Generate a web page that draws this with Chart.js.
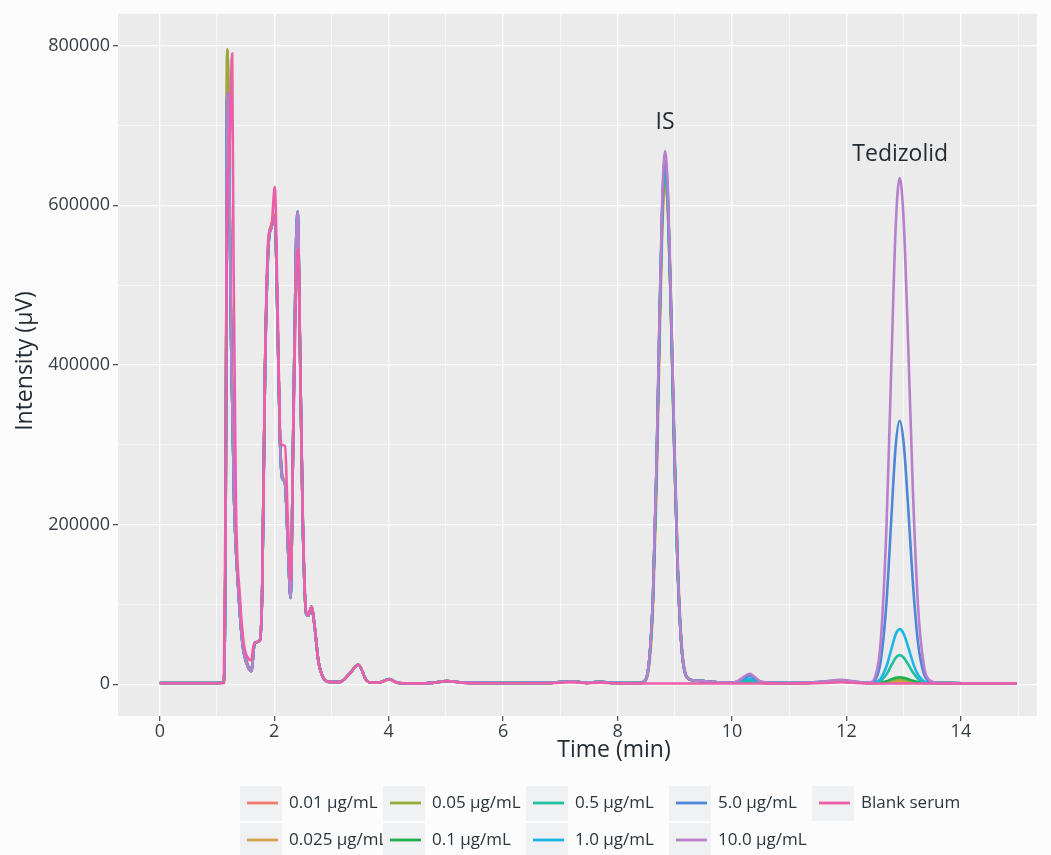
<!DOCTYPE html>
<html>
<head>
<meta charset="utf-8">
<script src="https://cdn.jsdelivr.net/npm/chart.js@4.4.1/dist/chart.umd.min.js"></script>
<style>
	body { margin: 0; background: #fcfcfc; }
	canvas { display: block; }
</style>
</head>
<body>
<canvas id="grafico" width="1051" height="855"></canvas>
<script>
const seriesLabels = ['0.01 µg/mL', '0.025 µg/mL', '0.05 µg/mL', '0.1 µg/mL', '0.5 µg/mL', '1.0 µg/mL', '5.0 µg/mL', '10.0 µg/mL', 'Blank serum'];
const seriesColors = ['#F07A6E', '#D6A04A', '#93AD3C', '#1DAF4F', '#1FBFA0', '#1BB5E6', '#4F86D6', '#B77FCC', '#EC5FA8'];

// linhas de grade (maiores levam rotulo)
const xGrid = [0, 1, 2, 3, 4, 5, 6, 7, 8, 9, 10, 11, 12, 13, 14, 15];
const xTicks = [0, 2, 4, 6, 8, 10, 12, 14];
const yGrid = [0, 100000, 200000, 300000, 400000, 500000, 600000, 700000, 800000];
const yTicks = [0, 200000, 400000, 600000, 800000];

// serum matrix part of the run (min), same for every calibrator
const tMatrix = [0, 0.5, 1.0, 1.12, 1.15, 1.18, 1.21, 1.25, 1.30, 1.37, 1.45, 1.52, 1.60, 1.66, 1.75, 1.79, 1.84, 1.90, 1.95, 2.01, 2.06, 2.10, 2.14, 2.19, 2.24, 2.285, 2.33, 2.38, 2.41, 2.45, 2.50, 2.56, 2.60, 2.65, 2.71, 2.77, 2.85, 2.97, 3.15, 3.32, 3.47, 3.61, 3.70, 3.85, 4.01, 4.15, 4.5, 4.8, 5.01, 5.3, 6.0, 6.8, 7.2, 7.45, 7.69, 7.9, 8.2, 8.40];
const matrixLow = [1500, 1500, 1600, 1800, 200000, 795000, 690000, 420000, 230000, 125000, 50000, 28000, 17500, 52000, 55000, 120000, 400000, 555000, 575000, 588000, 450000, 310000, 262000, 250000, 175000, 110000, 300000, 530000, 580000, 420000, 200000, 88000, 86000, 97000, 70000, 30000, 9000, 3000, 2900, 13600, 24500, 5000, 2000, 2500, 6200, 2000, 800, 2000, 4100, 2000, 1600, 1700, 3700, 1800, 3000, 1800, 1600, 1700];
const matrixHigh = [1500, 1500, 1600, 1800, 190000, 740000, 660000, 415000, 228000, 122000, 48000, 26000, 16500, 52000, 55000, 118000, 395000, 550000, 572000, 585000, 448000, 308000, 258000, 252000, 172000, 108000, 305000, 545000, 592000, 425000, 200000, 88000, 86000, 97000, 70000, 30000, 9000, 3000, 2900, 13600, 24500, 5000, 2000, 2500, 6500, 2000, 800, 2000, 4100, 2000, 1600, 1700, 3700, 1800, 3000, 1800, 1600, 1700];
const tMatrixBlank = [0, 0.5, 1.0, 1.12, 1.15, 1.18, 1.21, 1.24, 1.265, 1.29, 1.33, 1.40, 1.47, 1.55, 1.60, 1.63, 1.66, 1.75, 1.79, 1.84, 1.90, 1.95, 2.01, 2.06, 2.10, 2.13, 2.19, 2.24, 2.29, 2.33, 2.38, 2.42, 2.46, 2.50, 2.56, 2.60, 2.65, 2.71, 2.77, 2.85, 2.97, 3.15, 3.32, 3.47, 3.61, 3.70, 3.85, 4.01, 4.15, 4.5, 4.8, 5.01, 5.3, 6.0, 6.8, 7.2, 7.45, 7.69, 7.9, 8.2, 8.40];
const matrixBlank = [1200, 1200, 1300, 1500, 250000, 630000, 650000, 740000, 790000, 520000, 230000, 110000, 50000, 32000, 30000, 45000, 52000, 55000, 120000, 400000, 561000, 572000, 623000, 470000, 320000, 300000, 298000, 200000, 130000, 290000, 500000, 545000, 380000, 210000, 90000, 88000, 97000, 70000, 30000, 9000, 3000, 2700, 13600, 24500, 5000, 2000, 2300, 6000, 1800, 800, 1800, 4000, 1800, 1200, 1300, 2500, 1300, 2000, 1200, 1000, 1000];

// internal standard peak
const tIS = [8.45, 8.55, 8.62, 8.68, 8.73, 8.78, 8.83, 8.88, 8.93, 8.99, 9.05, 9.12, 9.21];
const is001 = [2800, 27100, 108800, 262400, 432000, 579200, 640000, 592000, 470400, 294400, 144000, 45000, 8500];
const is0025 = [2400, 22000, 96000, 240000, 410000, 565000, 622000, 598000, 490000, 315000, 158000, 51000, 9500];
const is005 = [2800, 27300, 109700, 264500, 435400, 583700, 645000, 596600, 474100, 296700, 145100, 45400, 8600];
const is01 = [2800, 27500, 110500, 266500, 438800, 588300, 650000, 601300, 477800, 299000, 146300, 45700, 8700];
const is05 = [2800, 27700, 111400, 268600, 442100, 592800, 655000, 605900, 481400, 301300, 147400, 46000, 8700];
const is10 = [2800, 27600, 110800, 267300, 440100, 590100, 652000, 603100, 479200, 299900, 146700, 45800, 8700];
const is50 = [2800, 27900, 112200, 270600, 445500, 597300, 660000, 610500, 485100, 303600, 148500, 46400, 8800];
const is100 = [2800, 28200, 113600, 273900, 450900, 604500, 668000, 617900, 491000, 307300, 150300, 46900, 8800];
const isBlank = [1000, 1000, 1000, 1000, 1000, 1000, 1000, 1000, 1000, 1000, 1000, 1000, 1000];

const tPost = [9.32, 9.5, 9.75, 10.0];
const postCal = [5000, 4000, 2600, 2000];
const postBlank = [1000, 1000, 1000, 1000];

const tMid = [10.1, 10.2, 10.31, 10.4, 10.5, 10.7, 11.0, 11.3, 11.6, 11.9, 12.1, 12.3];
const midOther = [2200, 3000, 3600, 3000, 2100, 1700, 1600, 1800, 2800, 4000, 3000, 1900];
const midCyan = [3000, 5500, 7000, 5500, 2800, 1800, 1600, 1900, 3000, 4500, 3400, 2000];
const midBlue = [3500, 7500, 10700, 7500, 3000, 1800, 1600, 2000, 3300, 5000, 3700, 2100];
const midPurple = [4000, 9000, 13000, 9000, 3500, 1800, 1600, 2000, 3500, 5500, 4000, 2200];
const midBlank = [1000, 1000, 1000, 1000, 1000, 1000, 1000, 1100, 1500, 2500, 1800, 1100];

// tedizolid peak
const tTed = [12.4, 12.5, 12.6, 12.7, 12.78, 12.86, 12.93, 13.0, 13.08, 13.16, 13.25, 13.35, 13.45, 13.6];
const ted001 = [1600, 1600, 1700, 2000, 2400, 2800, 3000, 2900, 2500, 2100, 1800, 1650, 1600, 1500];
const ted0025 = [1600, 1630, 1850, 2500, 3300, 4100, 4500, 4200, 3500, 2700, 2000, 1700, 1600, 1500];
const ted005 = [1600, 1650, 2000, 3100, 4600, 5950, 6500, 6100, 4800, 3400, 2300, 1800, 1600, 1500];
const ted01 = [1600, 1700, 2200, 3800, 6000, 8100, 8800, 8200, 6400, 4400, 2700, 1900, 1600, 1500];
const ted05 = [1700, 2000, 4600, 12400, 22900, 33000, 36500, 33500, 24800, 15000, 7000, 2900, 1800, 1500];
const ted10 = [1700, 2400, 7300, 22500, 42700, 62300, 69000, 63300, 46400, 27500, 12000, 4100, 2000, 1500];
const ted50 = [1900, 5400, 29500, 103000, 202000, 298000, 330000, 302000, 220000, 128000, 52500, 13800, 3500, 1600];
const ted100 = [2200, 9000, 55000, 198000, 388000, 572000, 634000, 581000, 423000, 245000, 99000, 25000, 5000, 1700];
const tedBlank = [1000, 1000, 1000, 1000, 1000, 1000, 1000, 1000, 1000, 1000, 1000, 1000, 1000, 1000];

const tTail = [13.8, 14.2, 14.6, 14.98];
const tailCal = [1400, 1300, 1200, 1200];
const tailBlank = [1000, 1000, 1000, 1000];

const peakLabels = [
	{ text: 'IS', x: 8.83, y: 704000 },
	{ text: 'Tedizolid', x: 12.94, y: 664000 }
];

const seriesParts = [
	[matrixLow, is001, postCal, midOther, ted001, tailCal],
	[matrixLow, is0025, postCal, midOther, ted0025, tailCal],
	[matrixLow, is005, postCal, midOther, ted005, tailCal],
	[matrixHigh, is01, postCal, midOther, ted01, tailCal],
	[matrixHigh, is05, postCal, midOther, ted05, tailCal],
	[matrixHigh, is10, postCal, midCyan, ted10, tailCal],
	[matrixHigh, is50, postCal, midBlue, ted50, tailCal],
	[matrixHigh, is100, postCal, midPurple, ted100, tailCal],
	[matrixBlank, isBlank, postBlank, midBlank, tedBlank, tailBlank]
];

const FONTE = "'Open Sans', 'Noto Sans', sans-serif";

function montaPontos(idx) {
	const tempos = [idx === 8 ? tMatrixBlank : tMatrix, tIS, tPost, tMid, tTed, tTail];
	const pontos = [];
	seriesParts[idx].forEach((valores, p) => {
		valores.forEach((v, k) => pontos.push({ x: tempos[p][k], y: v }));
	});
	return pontos;
}

function montaDatasets() {
	return seriesLabels.map((label, i) => ({
		label: label,
		data: montaPontos(i),
		borderColor: seriesColors[i],
		backgroundColor: seriesColors[i],
		borderWidth: 2.6,
		pointRadius: 0,
		cubicInterpolationMode: 'monotone',
		order: seriesLabels.length - i
	}));
}

// fundo cinza do painel, estilo ggplot
const painelPlugin = {
	id: 'painel',
	beforeDraw(chart) {
		const { ctx, chartArea: a } = chart;
		ctx.save();
		ctx.fillStyle = '#fcfcfc';
		ctx.fillRect(0, 0, chart.width, chart.height);
		ctx.fillStyle = '#EBEBEB';
		ctx.fillRect(a.left, a.top, a.right - a.left, a.bottom - a.top);
		ctx.restore();
	}
};

const textosPlugin = {
	id: 'textos',
	afterDraw(chart) {
		const { ctx } = chart;
		const xs = chart.scales.x, ys = chart.scales.y;
		ctx.save();
		ctx.fillStyle = '#222b33';
		ctx.textAlign = 'center';
		ctx.textBaseline = 'middle';
		ctx.font = '23px ' + FONTE;
		peakLabels.forEach(l => ctx.fillText(l.text, xs.getPixelForValue(l.x), ys.getPixelForValue(l.y)));

		// titulos dos eixos
		ctx.fillText('Time (min)', 614, 750);
		ctx.save();
		ctx.translate(25, 361);
		ctx.rotate(-Math.PI / 2);
		ctx.fillText('Intensity (μV)', 0, 0);
		ctx.restore();

		// legenda em 2 linhas, preenchida por coluna
		const colX = [240, 383, 526, 669, 812];
		const rowY = [803, 840];
		ctx.font = '17px ' + FONTE;
		ctx.textAlign = 'left';
		seriesLabels.forEach((label, i) => {
			const cx = colX[Math.floor(i / 2)];
			const cy = rowY[i % 2];
			ctx.fillStyle = '#F0F1F2';
			ctx.fillRect(cx, cy - 17, 42, 35);
			ctx.strokeStyle = seriesColors[i];
			ctx.lineWidth = 2.8;
			ctx.beginPath();
			ctx.moveTo(cx + 7, cy);
			ctx.lineTo(cx + 38, cy);
			ctx.stroke();
			ctx.fillStyle = '#2a353d';
			ctx.fillText(label, cx + 49, cy);
		});
		ctx.restore();
	}
};

function eixo(grade, rotulos, limites, tamanho) {
	return {
		type: 'linear',
		min: limites[0],
		max: limites[1],
		afterBuildTicks: (scale) => { scale.ticks = grade.map(v => ({ value: v })); },
		afterFit: tamanho,
		border: { display: false },
		grid: {
			color: '#ffffff',
			lineWidth: (c) => (rotulos.includes(c.tick.value) ? 1.3 : 0.6),
			tickColor: (c) => (rotulos.includes(c.tick.value) ? '#555555' : 'rgba(0,0,0,0)'),
			tickLength: 5
		},
		ticks: {
			autoSkip: false,
			maxRotation: 0,
			color: '#353c43',
			font: { family: FONTE, size: 18 },
			callback: (v) => (rotulos.includes(v) ? String(v) : '')
		}
	};
}

function montaChart() {
	const ctx = document.getElementById('grafico').getContext('2d');
	const eixoX = eixo(xGrid, xTicks, [-0.73, 15.33], (scale) => { scale.height = 139; });
	eixoX.ticks.padding = 0;
	const eixoY = eixo(yGrid, yTicks, [-39750, 839750], (scale) => { scale.width = 118; });
	eixoY.ticks.padding = 3;
	return new Chart(ctx, {
		type: 'line',
		data: { datasets: montaDatasets() },
		options: {
			responsive: false,
			animation: false,
			devicePixelRatio: 1,
			layout: { padding: { top: 8, right: 14, left: 0, bottom: 0 } },
			scales: { x: eixoX, y: eixoY },
			plugins: {
				legend: { display: false },
				tooltip: { enabled: false }
			}
		},
		plugins: [painelPlugin, textosPlugin]
	});
}

window.onload = () => {
	montaChart();
}
</script>
</body>
</html>
